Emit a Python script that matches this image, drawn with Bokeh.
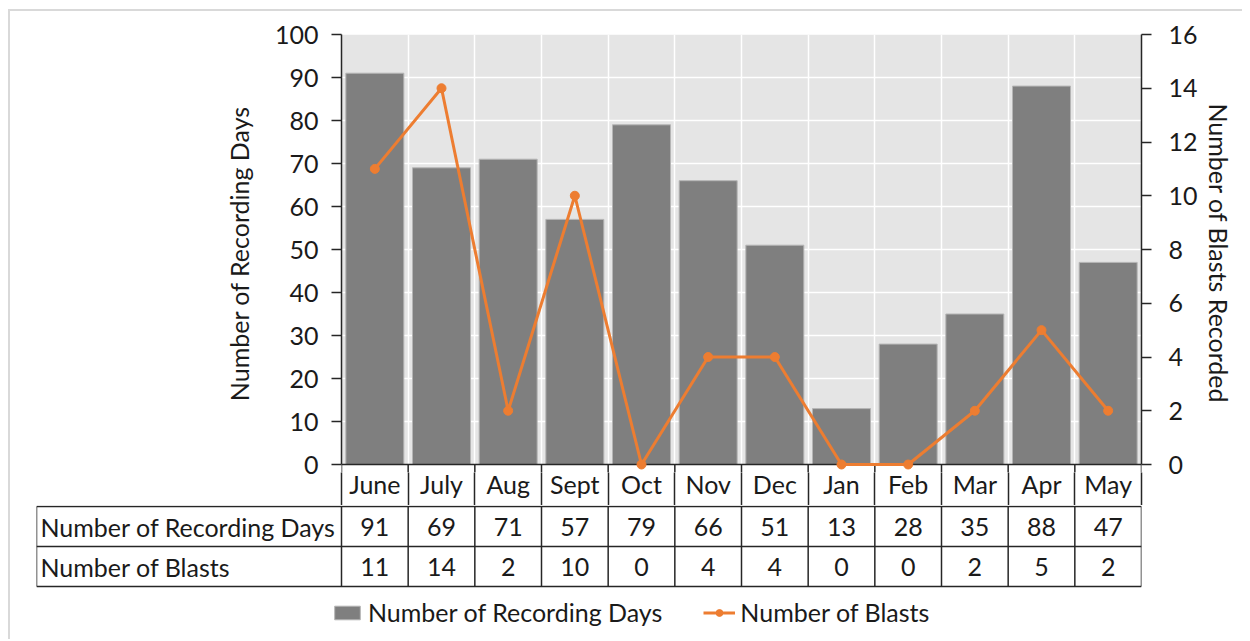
import numpy as np
from bokeh.plotting import figure
from bokeh.models import (Range1d, LinearAxis, FixedTicker, ColumnDataSource, Legend, LegendItem,
                          BoxAnnotation)
from bokeh.layouts import column
from bokeh.embed import file_html
from bokeh.resources import INLINE
from bokeh.core.properties import value

months = ["June", "July", "Aug", "Sept", "Oct", "Nov", "Dec", "Jan", "Feb", "Mar", "Apr", "May"]
recording_days = [91, 69, 71, 57, 79, 66, 51, 13, 28, 35, 88, 47]
blasts = [11, 14, 2, 10, 0, 4, 4, 0, 0, 2, 5, 2]
row_labels = ["Number of Recording Days", "Number of Blasts"]
left_ticks = list(range(0, 101, 10))
right_ticks = list(range(0, 17, 2))

FONT = "Lato"
FS = "25px"
TXT = "#1a1a1a"
LINE = "#262626"
BAR = "#7f7f7f"
BAR_EDGE = "#b5b5b5"
ORANGE = "#ED7D31"
PLOT_BG = "#e5e5e5"
W = 1232
HA = 494
HB = 134
ROWH = 40.0
LABW = 305 / (800 / 12)

# plot area: 430 px tall for 0..100 / 0..16, frame extends EXT px below zero
PLOT_PX = 430.0
EXT = 8.0
HEADER = 41
left_max, right_max = left_ticks[-1], right_ticks[-1]
left_lo = -EXT * left_max / PLOT_PX
right_lo = -EXT * right_max / PLOT_PX

n = len(months)
xc = [i + 0.5 for i in range(n)]
edges = list(range(n + 1))

src = ColumnDataSource(dict(x=xc, days=recording_days, blasts=blasts))

p = figure(width=W, height=HA, x_range=Range1d(0, n), y_range=Range1d(left_lo, left_max),
           output_backend="svg", toolbar_location=None, frame_align=False,
           min_border_left=331, min_border_right=101, min_border_top=23,
           min_border_bottom=int(HEADER - EXT),
           background_fill_color="white", border_fill_color="white", outline_line_color=None)
p.extra_y_ranges = {"blasts": Range1d(right_lo, right_max)}

# grey plotting area (0..max)
p.add_layout(BoxAnnotation(bottom=0, fill_color=PLOT_BG, fill_alpha=1, line_color=None, level="image"))

# bottom axis: month labels, table cell separators drawn as outward minor ticks
xa = p.xaxis[0]
xa.ticker = FixedTicker(ticks=xc, minor_ticks=edges)
xa.major_label_overrides = {x: m for x, m in zip(xc, months)}
xa.major_tick_out = 0
xa.major_tick_in = 0
xa.minor_tick_out = 0
xa.minor_tick_in = -int(HEADER - EXT)
xa.minor_tick_line_color = LINE
xa.minor_tick_line_width = 1.5
xa.axis_line_color = None
xa.major_label_standoff = -4
xa.major_label_text_font = FONT
xa.major_label_text_font_size = FS
xa.major_label_text_color = TXT

ya = p.yaxis[0]
ya.ticker = FixedTicker(ticks=left_ticks)
ya.bounds = (0, left_max)
ya.major_tick_out = 10
ya.major_tick_in = 0
ya.minor_tick_line_color = None
ya.axis_line_color = LINE
ya.axis_line_width = 1.5
ya.major_tick_line_color = LINE
ya.major_tick_line_width = 1.5
ya.major_label_standoff = 13
ya.major_label_text_font = FONT
ya.major_label_text_font_size = FS
ya.major_label_text_color = TXT
ya.axis_label = "Number of Recording Days"
ya.axis_label_standoff = 18
ya.axis_label_text_font = FONT
ya.axis_label_text_font_size = FS
ya.axis_label_text_font_style = "normal"
ya.axis_label_text_color = TXT

ra = LinearAxis(y_range_name="blasts", ticker=FixedTicker(ticks=right_ticks), bounds=(0, right_max))
ra.major_tick_out = 10
ra.major_tick_in = 0
ra.minor_tick_line_color = None
ra.axis_line_color = LINE
ra.axis_line_width = 1.5
ra.major_tick_line_color = LINE
ra.major_tick_line_width = 1.5
ra.major_label_standoff = 17
ra.major_label_text_font = FONT
ra.major_label_text_font_size = FS
ra.major_label_text_color = TXT
ra.axis_label = "Number of Blasts Recorded"
ra.axis_label_standoff = 3
ra.axis_label_text_font = FONT
ra.axis_label_text_font_size = FS
ra.axis_label_text_font_style = "normal"
ra.axis_label_text_color = TXT
p.add_layout(ra, "right")

p.ygrid.ticker = FixedTicker(ticks=left_ticks[1:])
p.ygrid.grid_line_color = "white"
p.ygrid.grid_line_width = 1.5
p.xgrid.ticker = FixedTicker(ticks=edges)
p.xgrid.grid_line_color = "white"
p.xgrid.grid_line_width = 1.5

p.vbar(x="x", top="days", width=0.87, fill_color=BAR, line_color=BAR_EDGE, line_width=1, source=src)

# header-row separators in the strip just below zero, and the category axis line at zero
p.segment(x0=edges, x1=edges, y0=[0] * len(edges), y1=[left_lo] * len(edges),
          line_color=LINE, line_width=1.5)
p.segment(x0=[edges[0]], x1=[edges[-1]], y0=[0], y1=[0], line_color=LINE, line_width=1.5)

p.line(x="x", y="blasts", y_range_name="blasts", line_color=ORANGE, line_width=3, source=src,
       level="overlay")
p.scatter(x="x", y="blasts", y_range_name="blasts", size=9, fill_color=ORANGE, line_color=ORANGE,
          source=src, level="overlay")

# ---- data table + legend ----
q = figure(width=W, height=HB, x_range=Range1d(-LABW, n),
           y_range=Range1d(HB / ROWH - 0.025, -0.025),
           x_axis_location=None, y_axis_location=None,
           output_backend="svg", toolbar_location=None, frame_align=False,
           min_border_left=26, min_border_right=101, min_border_top=0, min_border_bottom=0,
           outline_line_color=None, border_fill_color="white", background_fill_color="white")
q.grid.visible = False

nrows = len(row_labels)
hy = list(range(nrows + 1))
q.segment(x0=[-LABW] * len(hy), x1=[n] * len(hy), y0=hy, y1=hy, line_color=LINE, line_width=1.5)
vx = [-LABW] + edges
q.segment(x0=vx, x1=vx, y0=[0] * len(vx), y1=[nrows] * len(vx), line_color=LINE, line_width=1.5)

q.text(x=[-LABW + 0.06] * nrows, y=[r + 0.5 for r in range(nrows)], text=row_labels,
       text_align="left", text_baseline="middle", text_font=value(FONT),
       text_font_size=FS, text_color=TXT)
table_vals = [recording_days, blasts]
tx, ty, tt = [], [], []
for r, vals in enumerate(table_vals):
    for i, v in enumerate(vals):
        tx.append(xc[i]); ty.append(r + 0.5); tt.append(str(v))
q.text(x=tx, y=ty, text=tt, text_align="center", text_baseline="middle",
       text_font=value(FONT), text_font_size=FS, text_color=TXT)

# legend proxies (hidden renderers bound to the same data)
r1 = q.vbar(x="x", top="days", width=0.5, fill_color=BAR, line_color=BAR_EDGE, source=src, visible=False)
r2 = q.line(x="x", y="blasts", line_color=ORANGE, line_width=3, source=src, visible=False)
r3 = q.scatter(x="x", y="blasts", size=7, fill_color=ORANGE, line_color=ORANGE, source=src, visible=False)
legend = Legend(items=[LegendItem(label="Number of Recording Days", renderers=[r1]),
                       LegendItem(label="Number of Blasts", renderers=[r2, r3])],
                orientation="horizontal", location=(295, 12),
                border_line_color=None, background_fill_alpha=0, padding=0, margin=0,
                spacing=41, glyph_width=32, glyph_height=17, label_standoff=5,
                label_text_font=FONT, label_text_font_size=FS, label_text_color=TXT)
q.add_layout(legend)

layout = column(p, q, spacing=0,
                styles={"margin-left": "8px", "margin-top": "9px",
                        "border-left": "2px solid #d9d9d9", "border-top": "2px solid #d9d9d9"})
open("out.html", "w").write(file_html(layout, INLINE))
